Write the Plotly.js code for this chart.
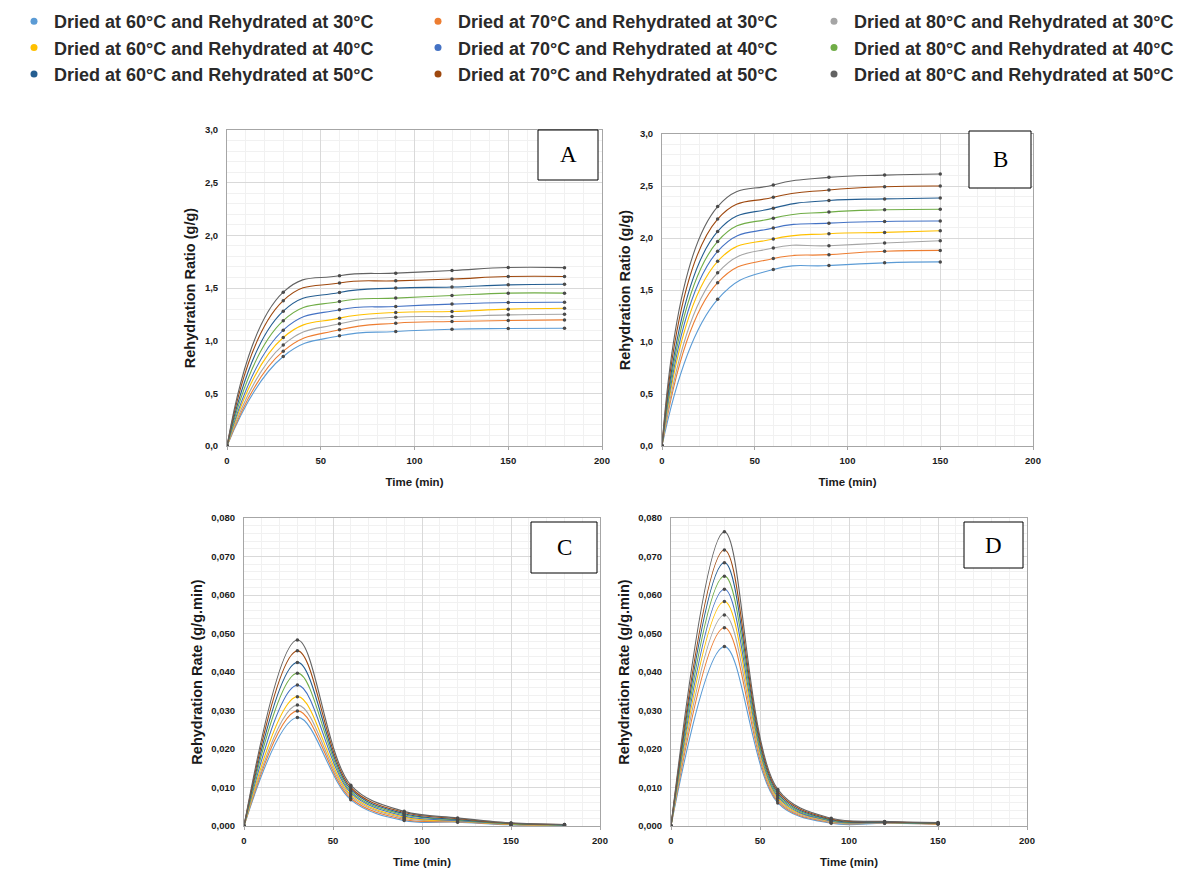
<!DOCTYPE html>
<html><head><meta charset="utf-8">
<script src="https://cdn.plot.ly/plotly-3.0.1.min.js"></script>
<style>html,body{margin:0;padding:0;background:#fff}#chart{width:1202px;height:872px}</style>
</head><body><div id="chart"></div><script>
// ---- data ----
const timeA = [0, 30, 60, 90, 120, 150, 180];
const timeB = [0, 30, 60, 90, 120, 150];
const seriesNames = [
  'Dried at 60°C and Rehydrated at 30°C', 'Dried at 70°C and Rehydrated at 30°C', 'Dried at 80°C and Rehydrated at 30°C',
  'Dried at 60°C and Rehydrated at 40°C', 'Dried at 70°C and Rehydrated at 40°C', 'Dried at 80°C and Rehydrated at 40°C',
  'Dried at 60°C and Rehydrated at 50°C', 'Dried at 70°C and Rehydrated at 50°C', 'Dried at 80°C and Rehydrated at 50°C'
];
const seriesColors = ['#5B9BD5', '#ED7D31', '#A5A5A5', '#FFC000', '#4472C4', '#70AD47', '#255E91', '#9E480E', '#636363'];
// legend column of each series (grouped by drying temperature)
const legendColumn = ['legend', 'legend2', 'legend3', 'legend', 'legend2', 'legend3', 'legend', 'legend2', 'legend3'];
// Panel A: rehydration ratio (g/g), series in legend order
const ratioA = [
  [0, 0.85, 1.046, 1.087, 1.109, 1.115, 1.118],
  [0, 0.90, 1.103, 1.166, 1.182, 1.191, 1.197],
  [0, 0.96, 1.160, 1.223, 1.229, 1.245, 1.251],
  [0, 1.03, 1.214, 1.267, 1.277, 1.299, 1.308],
  [0, 1.10, 1.293, 1.324, 1.347, 1.362, 1.365],
  [0, 1.19, 1.372, 1.404, 1.429, 1.451, 1.451],
  [0, 1.28, 1.457, 1.499, 1.509, 1.530, 1.535],
  [0, 1.38, 1.547, 1.568, 1.585, 1.609, 1.609],
  [0, 1.46, 1.616, 1.641, 1.666, 1.695, 1.693]
];
// Panel B: rehydration ratio (g/g)
const ratioB = [
  [0, 1.410, 1.697, 1.735, 1.761, 1.770],
  [0, 1.570, 1.802, 1.840, 1.872, 1.881],
  [0, 1.665, 1.904, 1.926, 1.952, 1.974],
  [0, 1.776, 1.990, 2.041, 2.054, 2.070],
  [0, 1.872, 2.096, 2.143, 2.159, 2.163],
  [0, 1.967, 2.191, 2.249, 2.271, 2.277],
  [0, 2.063, 2.287, 2.360, 2.376, 2.385],
  [0, 2.182, 2.392, 2.462, 2.493, 2.500],
  [0, 2.302, 2.510, 2.583, 2.605, 2.615]
];
// Panel C: rehydration rate (g/g.min)
const rateC = [
  [0, 0.0282, 0.0068, 0.0014, 0.0010, 0.0003, 0.0002],
  [0, 0.0299, 0.0072, 0.0017, 0.0011, 0.0004, 0.0002],
  [0, 0.0314, 0.0077, 0.0020, 0.0012, 0.0005, 0.0002],
  [0, 0.0336, 0.0081, 0.0023, 0.0013, 0.0005, 0.0003],
  [0, 0.0366, 0.0086, 0.0026, 0.0014, 0.0006, 0.0003],
  [0, 0.0397, 0.0090, 0.0029, 0.0016, 0.0006, 0.0003],
  [0, 0.0425, 0.0095, 0.0032, 0.0017, 0.0007, 0.0003],
  [0, 0.0455, 0.0100, 0.0035, 0.0019, 0.0007, 0.0004],
  [0, 0.0483, 0.0106, 0.0038, 0.0021, 0.0008, 0.0004]
];
// Panel D: rehydration rate (g/g.min)
const rateD = [
  [0, 0.0466, 0.0060, 0.0007, 0.0007, 0.0005],
  [0, 0.0515, 0.0064, 0.0009, 0.0008, 0.0005],
  [0, 0.0548, 0.0068, 0.0010, 0.0008, 0.0006],
  [0, 0.0583, 0.0072, 0.0012, 0.0009, 0.0006],
  [0, 0.0615, 0.0076, 0.0013, 0.0009, 0.0007],
  [0, 0.0649, 0.0080, 0.0015, 0.0010, 0.0007],
  [0, 0.0684, 0.0085, 0.0016, 0.0010, 0.0008],
  [0, 0.0717, 0.0090, 0.0018, 0.0011, 0.0008],
  [0, 0.0764, 0.0095, 0.0020, 0.0012, 0.0009]
];
const panelLabels = ['A', 'B', 'C', 'D'];

// ---- traces ----
const traces = [];
function addPanel(xs, ys, xa, ya, smooth) {
  ys.forEach((row, i) => {
    traces.push({
      x: xs, y: row, xaxis: xa, yaxis: ya, type: 'scatter', mode: 'lines+markers',
      name: seriesNames[i], showlegend: false, hoverinfo: 'skip',
      line: {color: seriesColors[i], width: 1.1, shape: 'spline', smoothing: smooth},
      marker: {size: 3.5, color: '#4a4a4a', line: {width: 0}}
    });
  });
}
addPanel(timeA, ratioA, 'x', 'y', 1.3);
addPanel(timeB, ratioB, 'x2', 'y2', 1.3);
addPanel(timeA, rateC, 'x3', 'y3', 1);
addPanel(timeB, rateD, 'x4', 'y4', 1);
// legend-only entries (dot markers), three columns
seriesNames.forEach((n, i) => {
  traces.push({x: [null], y: [null], xaxis: 'x', yaxis: 'y', type: 'scatter', mode: 'markers',
    name: n, showlegend: true, legend: legendColumn[i], marker: {size: 7, color: seriesColors[i]}});
});

// ---- layout ----
const W = 1202, H = 872;
const px = v => v / W, py = v => 1 - v / H;
const FAM = 'Liberation Sans, Arial, sans-serif';
const tickFont = {family: FAM, size: 9.5, color: '#1a1a1a', weight: 'bold'};
function xAxis(dom, anchor) {
  return {domain: [px(dom[0]), px(dom[1])], anchor: anchor, range: [0, 200], dtick: 50, tick0: 0,
    showline: true, linecolor: '#a6a6a6', mirror: true, linewidth: 1,
    showgrid: true, gridcolor: '#d9d9d9', zeroline: false,
    minor: {showgrid: true, dtick: 10, gridcolor: '#f1f1f1'},
    ticks: 'outside', ticklen: 3, tickcolor: '#a6a6a6', tickfont: tickFont, ticklabelstandoff: 3,
    automargin: false, fixedrange: true,
    title: {text: 'Time (min)', standoff: 12, font: {family: FAM, size: 11.5, color: '#1a1a1a', weight: 'bold'}}};
}
function yAxis(dom, anchor, rng, dt, mdt, fmt, title) {
  return {domain: [py(dom[1]), py(dom[0])], anchor: anchor, range: rng, dtick: dt, tick0: 0, tickformat: fmt,
    showline: true, linecolor: '#a6a6a6', mirror: true, linewidth: 1,
    showgrid: true, gridcolor: '#d9d9d9', zeroline: false,
    minor: {showgrid: true, dtick: mdt, gridcolor: '#f1f1f1'},
    ticks: '', tickfont: tickFont, ticklabelstandoff: 6, automargin: false, fixedrange: true,
    title: {text: title, standoff: 5, font: {family: FAM, size: 14.5, color: '#1a1a1a', weight: 'bold'}}};
}
const boxes = [
  [538, 598, 130, 180], [969, 1031, 131, 188], [531, 597, 522, 573], [964, 1023, 522, 568]
];
const shapes = boxes.map(b => ({type: 'rect', xref: 'paper', yref: 'paper',
  x0: px(b[0]), x1: px(b[1]), y0: py(b[3]), y1: py(b[2]), line: {color: '#000', width: 1}, fillcolor: '#fff', layer: 'above'}));
const annotations = boxes.map((b, i) => ({xref: 'paper', yref: 'paper', x: px((b[0] + b[1]) / 2), y: py((b[2] + b[3]) / 2),
  text: panelLabels[i], showarrow: false, xanchor: 'center', yanchor: 'middle',
  font: {family: 'Liberation Serif, Times New Roman, serif', size: 23, color: '#000'}}));

function legendCol(xpx) {
  return {orientation: 'v', x: px(xpx), y: py(3), xanchor: 'left', yanchor: 'top', traceorder: 'normal',
    font: {family: FAM, size: 18, color: '#2a2a2a', weight: 'bold'}, tracegroupgap: 0,
    bgcolor: 'rgba(0,0,0,0)', itemclick: false, itemdoubleclick: false};
}

const layout = {
  width: W, height: H, margin: {l: 0, r: 0, t: 0, b: 0}, paper_bgcolor: '#fff', plot_bgcolor: '#fff',
  separators: ', ',
  showlegend: true,
  legend: legendCol(14), legend2: legendCol(418), legend3: legendCol(814),
  xaxis: xAxis([227, 602], 'y'),
  yaxis: yAxis([130, 446], 'x', [0, 3], 0.5, 0.1, '.1f', 'Rehydration Ratio (g/g)'),
  xaxis2: xAxis([662, 1033], 'y2'),
  yaxis2: yAxis([134, 446], 'x2', [0, 3], 0.5, 0.1, '.1f', 'Rehydration Ratio (g/g)'),
  xaxis3: xAxis([244, 600], 'y3'),
  yaxis3: yAxis([518, 826], 'x3', [0, 0.08], 0.01, 0.002, '.3f', 'Rehydration Rate (g/g.min)'),
  xaxis4: xAxis([671, 1027], 'y4'),
  yaxis4: yAxis([518, 826], 'x4', [0, 0.08], 0.01, 0.002, '.3f', 'Rehydration Rate (g/g.min)'),
  shapes: shapes, annotations: annotations
};
Plotly.newPlot('chart', traces, layout, {staticPlot: true, displayModeBar: false});
</script></body></html>
